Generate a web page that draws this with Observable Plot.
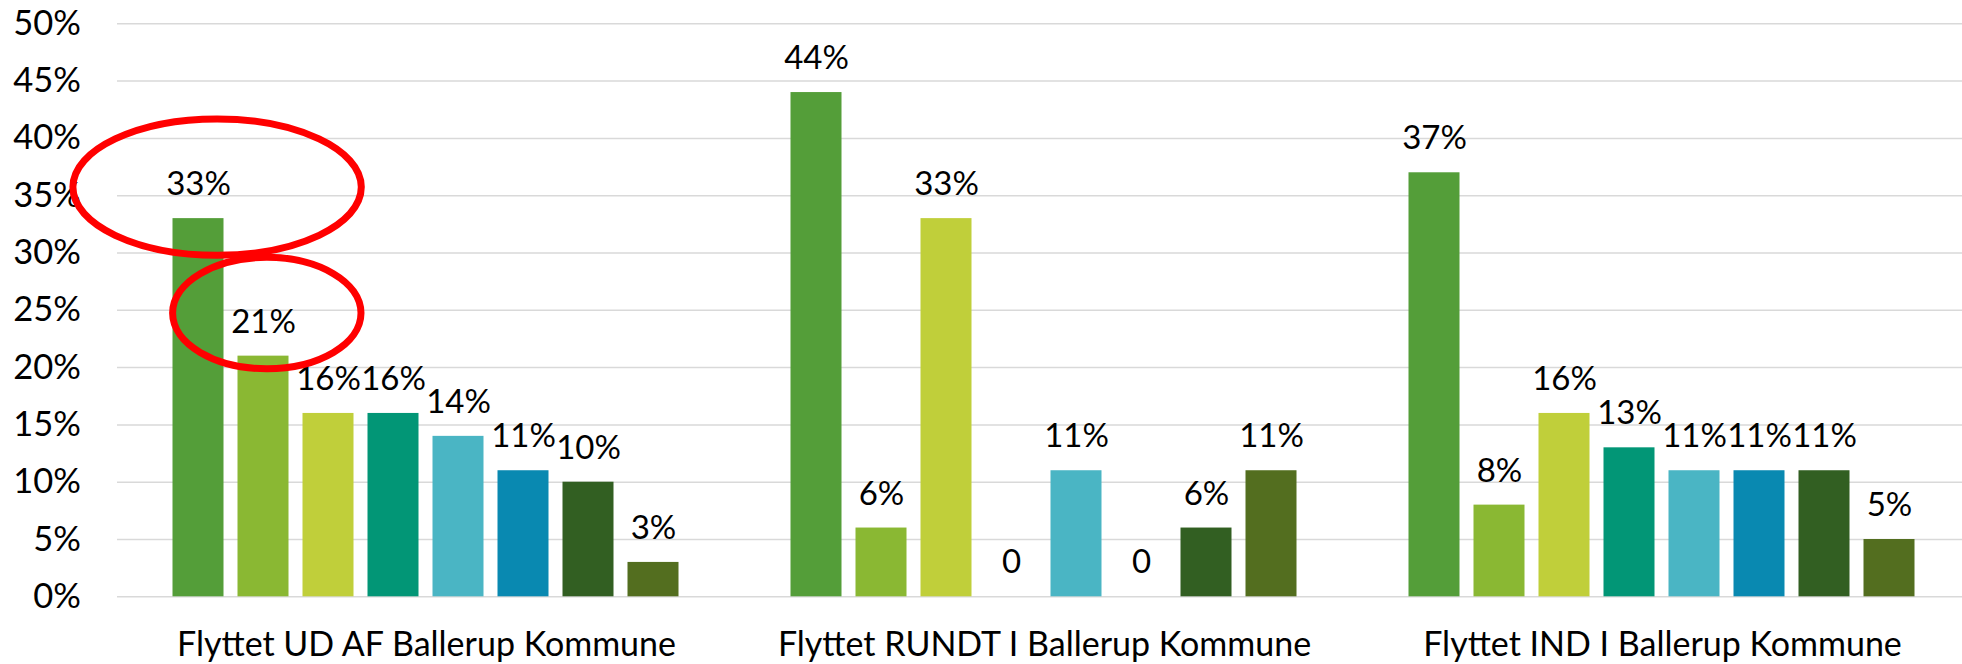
<!DOCTYPE html>
<html>
<head>
<meta charset="utf-8">
<script src="https://cdn.jsdelivr.net/npm/d3@7"></script>
<script src="https://cdn.jsdelivr.net/npm/@observablehq/plot@0.6"></script>
<style>
  html, body { margin: 0; padding: 0; background: #ffffff; }
  #chart { width: 1962px; height: 664px; overflow: hidden; }
</style>
</head>
<body>
<div id="chart"></div>
<script>
// ---- Data ----
const groups = [
  "Flyttet UD AF Ballerup Kommune",
  "Flyttet RUNDT I Ballerup Kommune",
  "Flyttet IND I Ballerup Kommune"
];
const series = ["Serie 1", "Serie 2", "Serie 3", "Serie 4", "Serie 5", "Serie 6", "Serie 7", "Serie 8"];
const valuesUd    = [33, 21, 16, 16, 14, 11, 10, 3];
const valuesRundt = [44, 6, 33, 0, 11, 0, 6, 11];
const valuesInd   = [37, 8, 16, 13, 11, 11, 11, 5];
const yTicks = [0, 5, 10, 15, 20, 25, 30, 35, 40, 45, 50];
const colors = ["#549E39", "#8AB833", "#C0CF3A", "#029676", "#4AB5C4", "#0989B1", "#325F22", "#536E1F"];

const valueSets = [valuesUd, valuesRundt, valuesInd];
const data = groups.flatMap((g, gi) => series.map((s, si) => ({group: g, series: s, value: valueSets[gi][si]})));

// highlighted labels (red ellipses): first group, series 1 and 2
const highlight1 = [{group: groups[0], series: series[0], value: valuesUd[0]}];
const highlight2 = [{group: groups[0], series: series[1], value: valuesUd[1]}];

function ellipseSymbol(rx, ry) {
  const k = 0.5522847498;
  return {
    draw(ctx) {
      ctx.moveTo(rx, 0);
      ctx.bezierCurveTo(rx, ry * k, rx * k, ry, 0, ry);
      ctx.bezierCurveTo(-rx * k, ry, -rx, ry * k, -rx, 0);
      ctx.bezierCurveTo(-rx, -ry * k, -rx * k, -ry, 0, -ry);
      ctx.bezierCurveTo(rx * k, -ry, rx, -ry * k, rx, 0);
      ctx.closePath();
    }
  };
}

const chart = Plot.plot({
  width: 1962,
  height: 664,
  marginLeft: 115.5,
  marginRight: -10,
  marginTop: 23.3,
  marginBottom: 67.7,
  style: {fontFamily: "Lato, 'Open Sans', sans-serif", fontSize: "33px", color: "#000", background: "#fff", overflow: "visible"},
  fx: {domain: groups, padding: 0, label: null},
  x: {domain: series, paddingInner: 0.214, paddingOuter: 0.845, axis: null},
  y: {domain: [0, 50], label: null},
  color: {domain: series, range: colors},
  marks: [
    Plot.gridY(yTicks, {stroke: "#D9D9D9", strokeOpacity: 1, strokeWidth: 1.5}),
    Plot.axisY({ticks: yTicks, tickFormat: d => d + "%", tickSize: 0, tickPadding: 36.5, fontSize: 34.5, label: null}),
    Plot.axisFx({anchor: "bottom", tickSize: 0, tickPadding: 34.6, fontSize: 34, label: null}),
    Plot.barY(data, {fx: "group", x: "series", y: "value", fill: "series"}),
    Plot.text(data, {
      fx: "group", x: "series", y: "value",
      text: d => d.value === 0 ? "0" : d.value + "%",
      dy: -34, lineAnchor: "middle", fontSize: 33, fill: "#000"
    }),
    Plot.dot(highlight1, {fx: "group", x: "series", y: "value", symbol: ellipseSymbol(144.2, 68.2),
      fill: "none", stroke: "#FF0000", strokeWidth: 7, dx: 18.6, dy: -31.5}),
    Plot.dot(highlight2, {fx: "group", x: "series", y: "value", symbol: ellipseSymbol(94.2, 55.7),
      fill: "none", stroke: "#FF0000", strokeWidth: 7, dx: 3.3, dy: -43.1})
  ]
});
document.getElementById("chart").appendChild(chart);
</script>
</body>
</html>
